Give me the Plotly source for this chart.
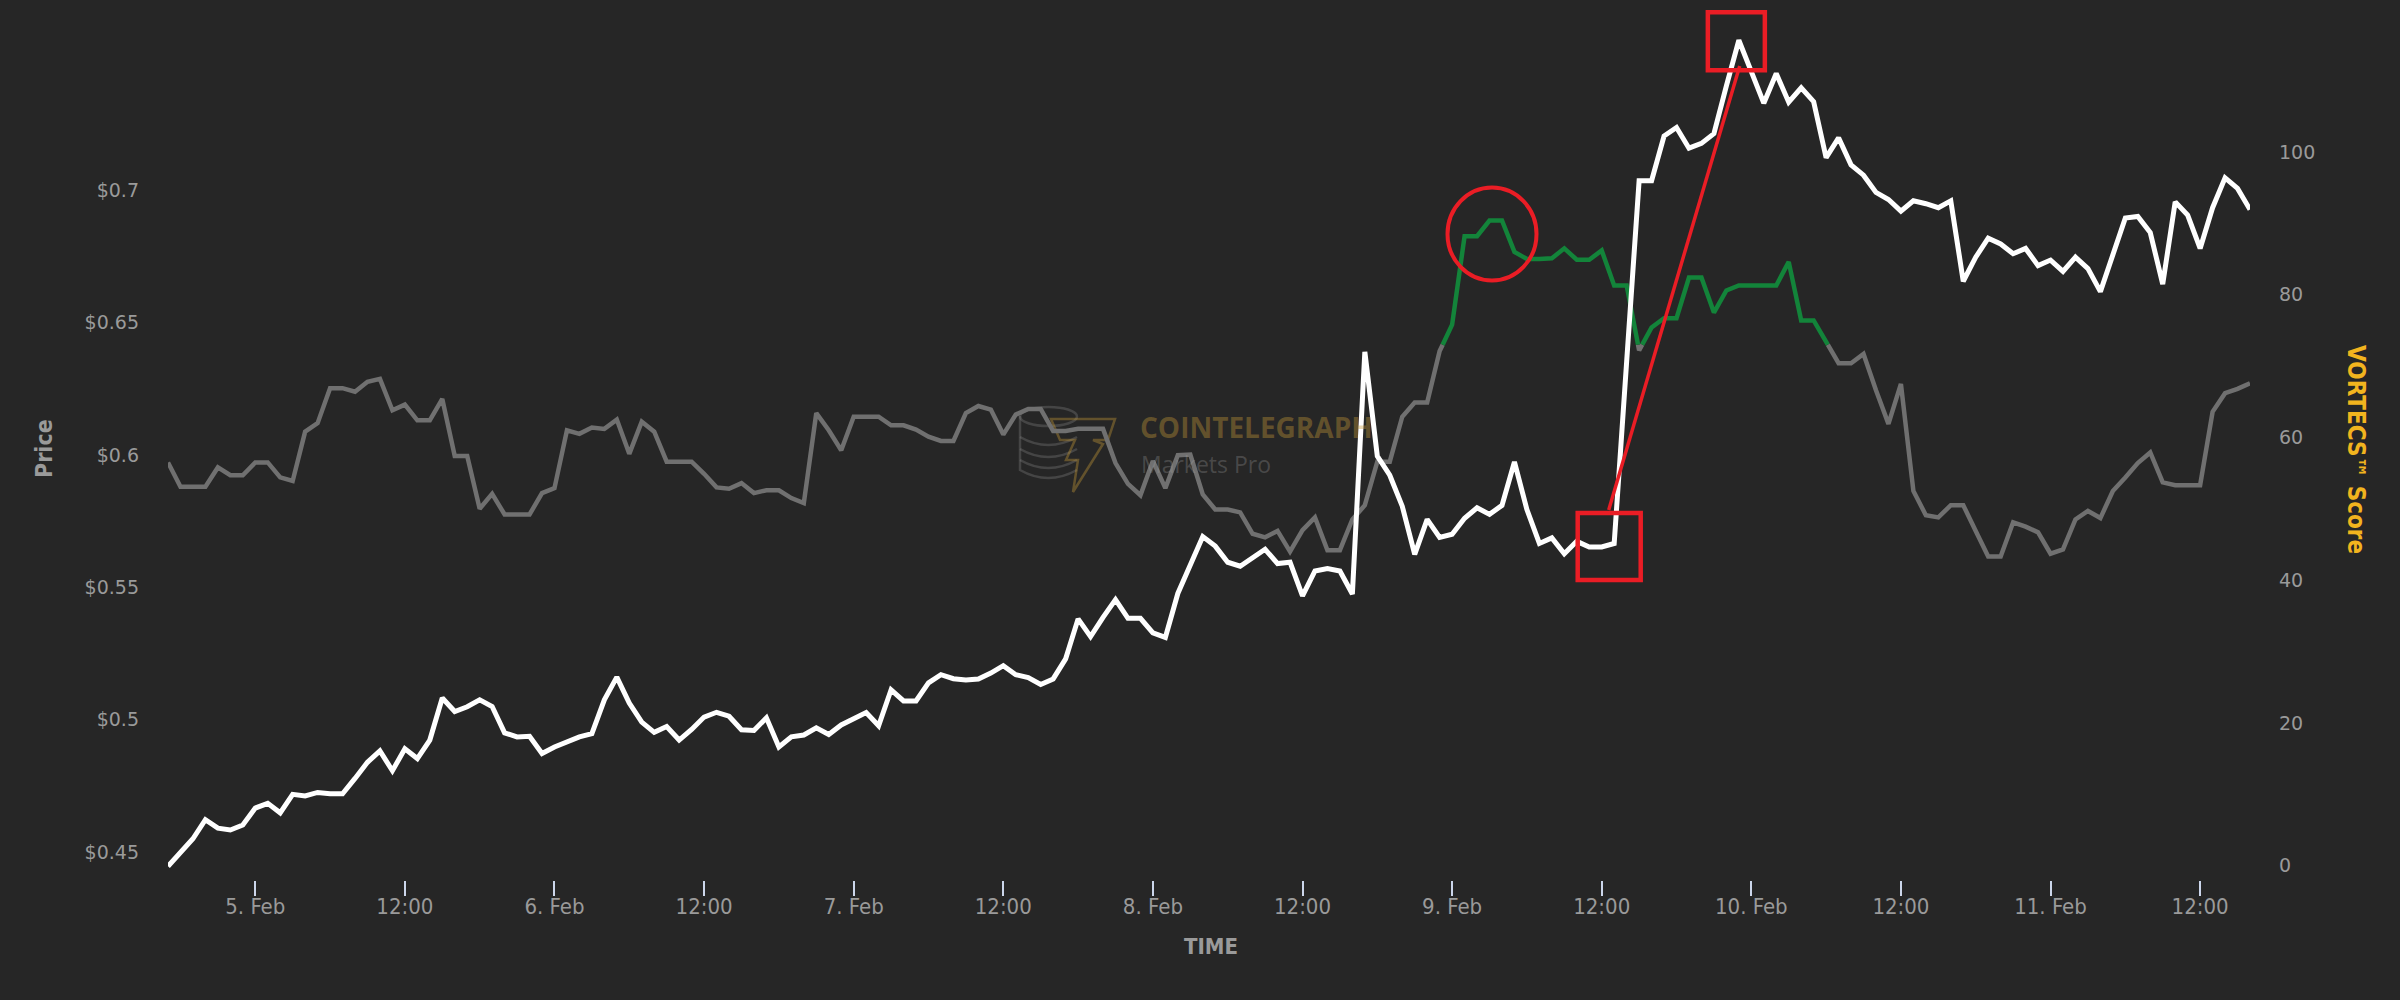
import pandas as pd
import plotly.graph_objects as go

# ---------------- data (hourly, 4 Feb 17:00 -> 11 Feb 16:00) ----------------
start_time = "2021-02-04 17:00"

price = [
    0.4446, 0.4496, 0.4550, 0.4622, 0.4590, 0.4583, 0.4602, 0.4666, 0.4684, 0.4648,
    0.4718, 0.4712, 0.4725, 0.4720, 0.4720, 0.4778, 0.4839, 0.4882, 0.4807, 0.4890,
    0.4853, 0.4923, 0.5082, 0.5031, 0.5049, 0.5075, 0.5050, 0.4950, 0.4935, 0.4937,
    0.4872, 0.4897, 0.4916, 0.4935, 0.4947, 0.5075, 0.5161, 0.5063, 0.4991, 0.4952,
    0.4974, 0.4923, 0.4963, 0.5010, 0.5028, 0.5013, 0.4962, 0.4959, 0.5007, 0.4897,
    0.4935, 0.4942, 0.4969, 0.4944, 0.4980, 0.5002, 0.5027, 0.4977, 0.5113, 0.5071,
    0.5071, 0.5139, 0.5170, 0.5155, 0.5150, 0.5154, 0.5176, 0.5204, 0.5170, 0.5159,
    0.5133, 0.5154, 0.5230, 0.5381, 0.5314, 0.5387, 0.5454, 0.5383, 0.5383, 0.5328,
    0.5311, 0.5477, 0.5580, 0.5692, 0.5656, 0.5595, 0.5580, 0.5611, 0.5644, 0.5590,
    0.5595, 0.5468, 0.5562, 0.5571, 0.5562, 0.5475, 0.6390, 0.5996, 0.5924, 0.5807,
    0.5625, 0.5757, 0.5689, 0.5701, 0.5761, 0.5801, 0.5776, 0.5810, 0.5974, 0.5794,
    0.5666, 0.5687, 0.5627, 0.5674, 0.5653, 0.5653, 0.5666, 0.6353, 0.7037, 0.7037,
    0.7206, 0.7238, 0.7160, 0.7178, 0.7215, 0.7395, 0.7568, 0.7449, 0.7330, 0.7442,
    0.7334, 0.7388, 0.7336, 0.7124, 0.7199, 0.7097, 0.7058, 0.6993, 0.6966, 0.6922,
    0.6961, 0.6950, 0.6935, 0.6961, 0.6657, 0.6748, 0.6820, 0.6798, 0.6761, 0.6781,
    0.6716, 0.6737, 0.6694, 0.6748, 0.6705, 0.6618, 0.6755, 0.6896, 0.6902, 0.6841,
    0.6646, 0.6957, 0.6907, 0.6781, 0.6935, 0.7048, 0.7008, 0.6928,
]

vortecs = [
    56.5, 53.1, 53.1, 53.1, 55.8, 54.7, 54.7, 56.5, 56.5, 54.4,
    53.9, 60.8, 62.0, 66.9, 66.9, 66.4, 67.8, 68.2, 63.8, 64.6,
    62.4, 62.4, 65.4, 57.4, 57.4, 50.0, 52.1, 49.2, 49.2, 49.2,
    52.2, 52.9, 61.0, 60.5, 61.4, 61.2, 62.5, 57.7, 62.2, 60.8,
    56.6, 56.6, 56.6, 54.9, 53.0, 52.8, 53.6, 52.2, 52.6, 52.6,
    51.5, 50.8, 63.4, 61.0, 58.2, 62.9, 62.9, 62.9, 61.7, 61.7,
    61.1, 60.1, 59.5, 59.5, 63.4, 64.4, 63.9, 60.4, 63.2, 64.0,
    64.0, 60.9, 60.9, 61.2, 61.2, 61.2, 56.4, 53.5, 51.9, 56.7,
    52.9, 57.5, 57.6, 52.0, 49.9, 49.9, 49.5, 46.5, 46.0, 46.9,
    44.0, 47.0, 48.8, 44.2, 44.2, 48.5, 50.5, 56.6, 56.6, 62.9,
    64.9, 64.9, 72.1, 75.8, 88.2, 88.2, 90.4, 90.4, 86.0, 85.0,
    85.0, 85.1, 86.5, 84.9, 84.9, 86.2, 81.3, 81.3, 72.2, 75.4,
    76.7, 76.7, 82.4, 82.4, 77.5, 80.6, 81.3, 81.3, 81.3, 81.3,
    84.6, 76.4, 76.4, 73.4, 70.4, 70.4, 71.7, 66.6, 61.9, 67.5,
    52.5, 49.1, 48.8, 50.5, 50.5, 46.9, 43.3, 43.3, 48.1, 47.5,
    46.7, 43.7, 44.3, 48.5, 49.7, 48.7, 52.5, 54.4, 56.4, 57.9,
    53.7, 53.3, 53.3, 53.3, 63.6, 66.2, 66.8, 67.6,
]

green_threshold = 73

x_tick_vals = ["2021-02-05 00:00", "2021-02-05 12:00", "2021-02-06 00:00", "2021-02-06 12:00",
               "2021-02-07 00:00", "2021-02-07 12:00", "2021-02-08 00:00", "2021-02-08 12:00",
               "2021-02-09 00:00", "2021-02-09 12:00", "2021-02-10 00:00", "2021-02-10 12:00",
               "2021-02-11 00:00", "2021-02-11 12:00"]
x_tick_text = ["5. Feb", "12:00", "6. Feb", "12:00", "7. Feb", "12:00", "8. Feb", "12:00",
               "9. Feb", "12:00", "10. Feb", "12:00", "11. Feb", "12:00"]
price_ticks = [0.45, 0.5, 0.55, 0.6, 0.65, 0.7]
price_tick_text = ["$0.45", "$0.5", "$0.55", "$0.6", "$0.65", "$0.7"]
score_ticks = [0, 20, 40, 60, 80, 100]

# highlighted points
circle_idx = 106
low_box_idx = 115
peak_idx = 126

# ---------------- build ----------------
times = list(pd.date_range(start_time, periods=len(price), freq="h"))

# split the score line into grey / green runs at the threshold
runs = []
cur = vortecs[0] >= green_threshold
xs, ys = [times[0]], [vortecs[0]]
for i in range(1, len(vortecs)):
    c = vortecs[i] >= green_threshold
    if c != cur:
        f = (green_threshold - vortecs[i - 1]) / (vortecs[i] - vortecs[i - 1])
        tc = times[i - 1] + (times[i] - times[i - 1]) * f
        xs.append(tc); ys.append(green_threshold)
        runs.append((cur, xs, ys))
        xs, ys = [tc], [green_threshold]
        cur = c
    xs.append(times[i]); ys.append(vortecs[i])
runs.append((cur, xs, ys))

gx, gy, hx, hy = [], [], [], []
for is_green, rx, ry in runs:
    if is_green:
        hx += rx + [None]; hy += ry + [None]
    else:
        gx += rx + [None]; gy += ry + [None]

W, H = 2400, 1000
L, R, T, B = 168, 150, 10, 120
PW, PH = W - L - R, H - T - B


def px(x):
    return (x - L) / PW


def py(y):
    return (H - B - y) / PH


BG = "#262626"
GREY_TXT = "#9a9a9a"
RED = "#ea1d25"
COND = "DejaVu Sans Condensed, Liberation Sans Narrow, Arial Narrow, sans-serif"

fig = go.Figure()
fig.add_trace(go.Scatter(x=gx, y=gy, mode="lines", yaxis="y",
                         line=dict(color="#707070", width=4.5), hoverinfo="skip", showlegend=False))
fig.add_trace(go.Scatter(x=hx, y=hy, mode="lines", yaxis="y",
                         line=dict(color="#13843a", width=4.5), hoverinfo="skip", showlegend=False))
fig.add_trace(go.Scatter(x=times, y=price, mode="lines", yaxis="y2",
                         line=dict(color="#ffffff", width=5), hoverinfo="skip", showlegend=False))

fig.update_layout(
    width=W, height=H, autosize=False,
    margin=dict(l=L, r=R, t=T, b=B),
    paper_bgcolor=BG, plot_bgcolor=BG,
    showlegend=False,
    xaxis=dict(type="date", range=[times[0], times[-1]], showgrid=False, zeroline=False,
               showline=False, tickvals=x_tick_vals, ticktext=x_tick_text,
               ticks="outside", ticklen=15, tickwidth=2, tickcolor="#ccd6eb",
               ticklabelstandoff=-8,
               tickfont=dict(family=COND, size=22, color=GREY_TXT)),
    yaxis=dict(side="right", range=[-2.02, 119.9], showgrid=False, zeroline=False,
               showline=False, tickvals=score_ticks, ticks="", ticklabelstandoff=28,
               tickfont=dict(family="DejaVu Sans, sans-serif", size=19, color=GREY_TXT)),
    yaxis2=dict(side="left", overlaying="y", range=[0.43941, 0.76822], showgrid=False,
                zeroline=False, showline=False, tickvals=price_ticks, ticktext=price_tick_text,
                ticks="", ticklabelstandoff=28,
                tickfont=dict(family="DejaVu Sans, sans-serif", size=19, color=GREY_TXT)),
)

annotations = [
    dict(text="Price", x=px(44), y=py(449), textangle=-90,
         font=dict(family=COND, size=23, color=GREY_TXT, weight="bold")),
    dict(text="VORTECS™ Score", x=px(2356), y=py(449), textangle=90,
         font=dict(family=COND, size=24, color="#f2b41e", weight="bold")),
    dict(text="TIME", x=px(1211), y=py(947),
         font=dict(family=COND, size=22, color=GREY_TXT, weight="bold")),
    dict(text="COINTELEGRAPH", x=px(1138), y=py(427), xanchor="left",
         font=dict(family="Open Sans, sans-serif", size=28, color="rgba(200,155,55,0.38)",
                   weight="bold")),
    dict(text="Markets Pro", x=px(1139), y=py(464), xanchor="left",
         font=dict(family="Open Sans, sans-serif", size=23, color="rgba(160,160,160,0.30)")),
]
for a in annotations:
    a.update(xref="paper", yref="paper", showarrow=False)
    a.setdefault("xanchor", "center")
    a.setdefault("yanchor", "middle")
fig.update_layout(annotations=annotations)

# faint logo (coin stack + bolt) behind the lines
logo_grey = "rgba(150,150,150,0.28)"
logo_gold = "rgba(200,155,55,0.38)"
shapes = [
    dict(type="circle", xref="paper", yref="paper", x0=px(1020), x1=px(1077), y0=py(426), y1=py(407),
         line=dict(color=logo_grey, width=2.5), layer="below"),
]
for yy in (445, 457, 468):
    shapes.append(dict(type="path", xref="paper", yref="paper", layer="below",
                       path=f"M {px(1020)},{py(yy - 8)} Q {px(1048)},{py(yy + 8)} {px(1077)},{py(yy - 8)}",
                       line=dict(color=logo_grey, width=2.5)))
shapes.append(dict(type="path", xref="paper", yref="paper", layer="below",
                   path=f"M {px(1020)},{py(416)} L {px(1020)},{py(470)} Q {px(1048)},{py(486)} {px(1077)},{py(470)}",
                   line=dict(color=logo_grey, width=2.5)))
bolt = [(1051, 419), (1115, 419), (1108, 440), (1093, 440), (1103, 444), (1073, 492),
        (1078, 460), (1066, 460), (1075, 440), (1060, 440)]
shapes.append(dict(type="path", xref="paper", yref="paper", layer="below",
                   path="M " + " L ".join(f"{px(a)},{py(b)}" for a, b in bolt) + " Z",
                   line=dict(color=logo_gold, width=2.5)))

# red highlight marks anchored to data points
shapes += [
    dict(type="circle", xref="x", yref="y", xsizemode="pixel", ysizemode="pixel",
         xanchor=times[circle_idx], yanchor=vortecs[circle_idx],
         x0=-42, x1=47, y0=-60, y1=33, line=dict(color=RED, width=4)),
    dict(type="rect", xref="x", yref="y2", xsizemode="pixel", ysizemode="pixel",
         xanchor=times[low_box_idx], yanchor=price[low_box_idx],
         x0=-24, x1=39, y0=-33, y1=34, line=dict(color=RED, width=4.5)),
    dict(type="rect", xref="x", yref="y2", xsizemode="pixel", ysizemode="pixel",
         xanchor=times[peak_idx], yanchor=price[peak_idx],
         x0=-31, x1=26, y0=-30, y1=28, line=dict(color=RED, width=4.5)),
    dict(type="line", xref="x", yref="y2", xsizemode="pixel", ysizemode="pixel",
         xanchor=times[low_box_idx], yanchor=price[low_box_idx],
         x0=7, x1=138, y0=37, y1=481, line=dict(color=RED, width=3.5)),
]
fig.update_layout(shapes=shapes)

fig.write_html("out.html", include_plotlyjs=True, config={"displayModeBar": False},
               post_script="document.body.style.margin='0';document.body.style.overflow='hidden';")
